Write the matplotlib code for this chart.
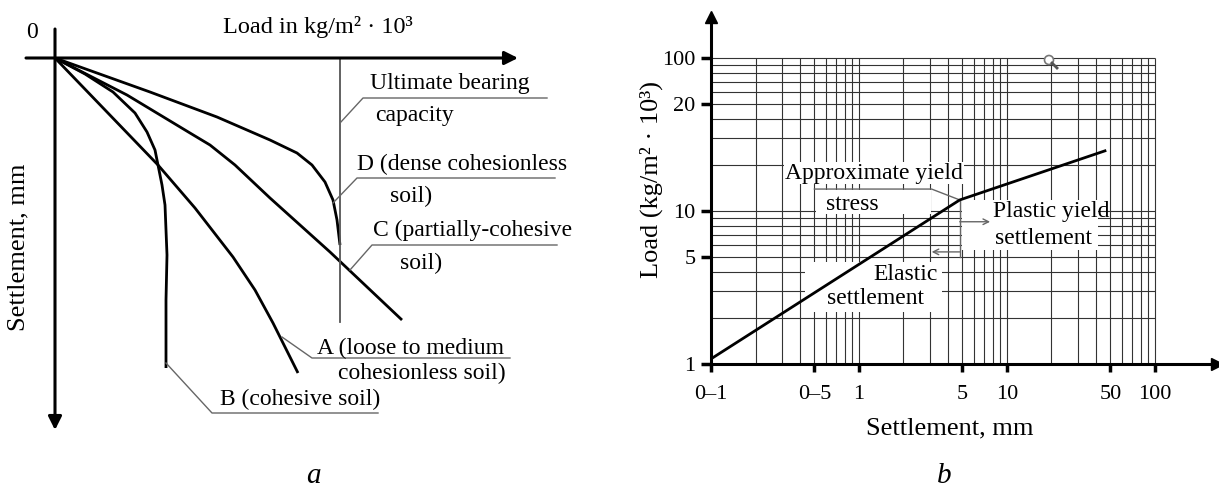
import matplotlib
matplotlib.use('Agg')
import matplotlib.pyplot as plt
import matplotlib.transforms as mtransforms
from matplotlib.patches import Rectangle, Circle
from matplotlib.ticker import NullLocator

plt.rcParams['font.family'] = 'Liberation Serif'

W, H = 1219, 488

# ---- panel a: load-settlement curves (load, settlement in arbitrary units) ----
d_load = [0, 9.5, 16.2, 21.5, 24.2, 25.7, 27.0, 27.8, 28.2, 28.5]
d_settle = [0, 3.4, 5.9, 8.2, 9.5, 10.7, 12.4, 14.2, 16.2, 18.7]

c_load = [0, 7.2, 13.5, 15.5, 18.0, 21.5, 27.5, 34.7]
c_settle = [0, 3.7, 7.5, 8.7, 10.7, 14.0, 19.4, 26.2]

b_load = [0, 3.0, 5.8, 8.0, 9.2, 10.0, 10.3, 10.7, 11.0, 11.2, 11.1, 11.1]
b_settle = [0, 1.6, 3.4, 5.5, 7.4, 9.2, 10.7, 12.7, 14.7, 19.7, 24.2, 31.0]

a_load = [0, 10.3, 14.0, 17.8, 20.0, 21.8, 24.3]
a_settle = [0, 10.7, 15.0, 19.9, 23.2, 26.5, 31.5]

ultimate_load = 28.5
ultimate_depth = 26.4

# ---- panel b: log-log load vs settlement ----
b_settlement = [0.1, 4.8, 46]
b_loadlog = [1.08, 11.8, 24.7]
x_ticks = [0.1, 0.5, 1, 5, 10, 50, 100]
x_ticklabels = ['0–1', '0–5', '1', '5', '10', '50', '100']
y_ticks = [1, 5, 10, 50, 100]
y_ticklabels = ['1', '5', '10', '20', '100']

fig = plt.figure(figsize=(W / 100, H / 100), dpi=100)
px = mtransforms.Affine2D().scale(1 / W, -1 / H).translate(0, 1) + fig.transFigure


def box(l, t, r, b):
    return [l / W, 1 - b / H, (r - l) / W, (b - t) / H]


grey = '#666666'

# ================= panel a =================
ax = fig.add_axes(box(55, 58, 518, 430))
ax.set_xlim(0, 46.3)
ax.set_ylim(37.2, 0)
ax.axis('off')
arrow = dict(arrowstyle='-|>', lw=2.2, color='k', mutation_scale=20, shrinkA=0, shrinkB=0)
ax.annotate('', xy=(46.3, 0), xytext=(-2.9, 0), arrowprops=arrow, annotation_clip=False)
ax.annotate('', xy=(0, 37.2), xytext=(0, -2.9), arrowprops=arrow, annotation_clip=False)

for xs, ys in [(d_load, d_settle), (c_load, c_settle), (b_load, b_settle), (a_load, a_settle)]:
    ax.plot(xs, ys, color='k', lw=2.0, solid_capstyle='butt', solid_joinstyle='round')
ax.plot([ultimate_load, ultimate_load], [0, ultimate_depth], color='#555555', lw=1.3)

fs = 17
fig.text(32, 33, '0', transform=px, fontsize=fs, ha='center', va='center')
fig.text(318, 27, 'Load in kg/m² · 10³', transform=px, fontsize=17.5, ha='center', va='center')
fig.text(18, 247, 'Settlement, mm', transform=px, fontsize=19, ha='center', va='center', rotation=90)

labels_a = [
    ('Ultimate bearing', 370, 84), ('capacity', 375, 115),
    ('D (dense cohesionless', 357, 164), ('soil)', 390, 196),
    ('C (partially-cohesive', 373, 230), ('soil)', 400, 263),
    ('A (loose to medium', 317, 348), ('cohesionless soil)', 338, 373),
    ('B (cohesive soil)', 220, 399),
]
for s, x, y in labels_a:
    fig.text(x, y, s, transform=px, fontsize=fs, ha='left', va='center')

leaders_a = [
    [(340, 123), (363, 98), (547, 98)],
    [(333, 203), (357, 178), (555, 178)],
    [(350, 270), (372, 245), (557, 245)],
    [(282, 337), (312, 358), (510, 358)],
    [(166, 363), (212, 413), (378, 413)],
]
for pts in leaders_a:
    fig.add_artist(plt.Line2D([p[0] for p in pts], [p[1] for p in pts], transform=px,
                              color=grey, lw=1.0))

fig.text(313, 476, 'a', transform=px, fontsize=21, style='italic', ha='center', va='center')

# ================= panel b =================
bx = fig.add_axes(box(711, 17, 1217, 364))
bx.set_xscale('log')
bx.set_yscale('log')
bx.set_xlim(0.1, 263)
bx.set_ylim(1, 185)
bx.patch.set_visible(False)
for side in ['top', 'right']:
    bx.spines[side].set_visible(False)
for side in ['left', 'bottom']:
    bx.spines[side].set_linewidth(2.2)
    bx.spines[side].set_zorder(6)

grid_x = [m * 10 ** e for e in (-1, 0, 1) for m in range(1, 10)] + [100]
grid_y = [m * 10 ** e for e in (0, 1) for m in range(1, 10)] + [100]
bx.vlines(grid_x, 1, 100, color='#333333', lw=0.8, zorder=1)
bx.hlines(grid_y, 0.1, 100, color='#333333', lw=0.8, zorder=1)

bx.set_xticks(x_ticks, x_ticklabels)
bx.set_yticks(y_ticks, y_ticklabels)
bx.xaxis.set_minor_locator(NullLocator())
bx.yaxis.set_minor_locator(NullLocator())
bx.tick_params(axis='x', direction='out', length=6, width=2.5, labelsize=16, pad=9)
bx.tick_params(axis='y', direction='out', length=7, width=2.5, labelsize=16, pad=4)

bx.plot(1, 0, marker='>', color='k', ms=9, transform=bx.transAxes, clip_on=False, zorder=7)
bx.plot(0, 1, marker='^', color='k', ms=9, transform=bx.transAxes, clip_on=False, zorder=7)

# white patches behind the labels
for l, t, r, b in [(784, 162, 964, 184), (816, 190, 931, 214), (962, 200, 1098, 250), (805, 262, 942, 312)]:
    bx.add_patch(Rectangle((l, t), r - l, b - t, transform=px, facecolor='white',
                           edgecolor='none', zorder=2, clip_on=False))

bx.plot(b_settlement, b_loadlog, color='k', lw=2.0, zorder=5)

kx, ky = b_settlement[1], b_loadlog[1]
bx.plot([0.5, 3.1, kx], [13.9, 13.9, ky], color=grey, lw=1.0, zorder=3)
bx.plot([kx, kx], [5, ky], color=grey, lw=1.0, zorder=3)
bx.annotate('', xy=(7.7, 8.5), xytext=(kx, 8.5),
            arrowprops=dict(arrowstyle='->', color=grey, lw=1.0, shrinkA=0, shrinkB=0), zorder=3)
bx.annotate('', xy=(3.1, 5.4), xytext=(kx, 5.4),
            arrowprops=dict(arrowstyle='->', color=grey, lw=1.0, shrinkA=0, shrinkB=0), zorder=3)

labels_b = [
    ('Approximate yield', 874, 173, 'center'), ('stress', 852, 205, 'center'),
    ('Plastic yield', 993, 212, 'left'), ('settlement', 995, 239, 'left'),
    ('Elastic', 906, 274, 'center'), ('settlement', 875, 298, 'center'),
]
for s, x, y, ha in labels_b:
    bx.text(x, y, s, transform=px, fontsize=fs, ha=ha, va='center', zorder=4)

# small magnifier mark on the grid
bx.add_patch(Circle((1049, 60), 4.5, transform=px, facecolor='white', edgecolor='#777777',
                    lw=1.2, zorder=4, clip_on=False))
bx.plot([1052, 1057], [63, 68], transform=px, color='#555555', lw=2, zorder=4, clip_on=False)

fig.text(651, 180, 'Load (kg/m² · 10³)', transform=px, fontsize=19, ha='center', va='center',
         rotation=90)
fig.text(950, 428, 'Settlement, mm', transform=px, fontsize=19, ha='center', va='center')
fig.text(944, 476, 'b', transform=px, fontsize=21, style='italic', ha='center', va='center')

fig.savefig('out.png', dpi=100)
